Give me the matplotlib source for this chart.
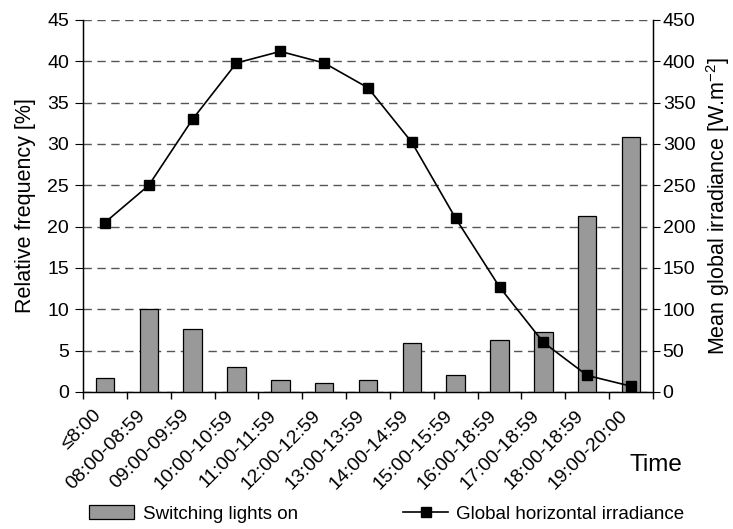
import matplotlib
matplotlib.use("Agg")
import matplotlib.pyplot as plt
import matplotlib.transforms as mtransforms
import numpy as np
from matplotlib.patches import Patch
from matplotlib.lines import Line2D

plt.rcParams['font.family'] = ['Liberation Sans', 'DejaVu Sans']
plt.rcParams['mathtext.fontset'] = 'custom'
plt.rcParams['mathtext.rm'] = 'Liberation Sans'
plt.rcParams['mathtext.it'] = 'Liberation Sans'

categories = ["≤8:00", "08:00-08:59", "09:00-09:59", "10:00-10:59", "11:00-11:59",
              "12:00-12:59", "13:00-13:59", "14:00-14:59", "15:00-15:59",
              "16:00-18:59", "17:00-18:59", "18:00-18:59", "19:00-20:00"]
switching = [1.7, 10.0, 7.6, 3.0, 1.5, 1.1, 1.5, 5.9, 2.1, 6.3, 7.2, 21.3, 30.8]
irradiance = [205, 250, 330, 398, 412, 398, 368, 302, 210, 127, 60, 20, 7]

fig = plt.figure(figsize=(7.33, 5.29), dpi=100)
ax = fig.add_axes([83/733, 1 - 392/529, (653-83)/733, (392-20)/529])
x = np.arange(len(categories))

ax.bar(x, switching, width=0.42, color='#999999', edgecolor='black', linewidth=0.9, zorder=3)
ax.set_xlim(-0.5, len(categories) - 0.5)
ax.set_ylim(0, 45)
ax.set_yticks(np.arange(0, 46, 5))
ax.yaxis.grid(True, linestyle=(0, (6, 4)), color='#555555', linewidth=1.0, zorder=0)
ax.set_axisbelow(True)
ax.set_xticks(x)
ax.set_xticklabels(categories, rotation=45, ha='right', va='center',
                   rotation_mode='anchor', fontsize=14)
ax.tick_params(axis='x', which='major', length=0, pad=15)
offset = mtransforms.ScaledTranslation(-6/100, 0, fig.dpi_scale_trans)
for lbl in ax.get_xticklabels():
    lbl.set_transform(lbl.get_transform() + offset)
ax.set_xticks(np.arange(-0.5, len(categories), 1), minor=True)
ax.tick_params(axis='x', which='minor', length=5, direction='out', width=1)
ax.tick_params(axis='y', labelsize=14, length=6, direction='out', pad=4)
ax.set_ylabel("Relative frequency [%]", fontsize=15.5, labelpad=8)
ax.spines['top'].set_visible(False)
for s in ['left', 'bottom', 'right']:
    ax.spines[s].set_linewidth(1.0)

ax2 = ax.twinx()
ax2.plot(x, irradiance, color='black', linewidth=1.2, marker='s', markersize=7.5, zorder=4)
ax2.set_ylim(0, 450)
ax2.set_yticks(np.arange(0, 451, 50))
ax2.tick_params(axis='y', labelsize=14, length=5, direction='out', pad=2)
ax2.set_ylabel("Mean global irradiance [W.m$^{-2}$]", fontsize=15.5, labelpad=6)
ax2.spines['top'].set_visible(False)

fig.text(630/733, 1 - 465/529, "Time", fontsize=17.5, ha='left', va='center')

handles = [Patch(facecolor='#999999', edgecolor='black', linewidth=0.9),
           Line2D([0], [0], color='black', marker='s', markersize=7.5, linewidth=1.2)]
fig.legend(handles, ["Switching lights on", "Global horizontal irradiance"],
           loc='center', bbox_to_anchor=(387/733, 1 - 514/529), ncol=2, frameon=False,
           fontsize=13.5, columnspacing=5.6, handlelength=2.4, handletextpad=0.45)

fig.savefig("out.png", dpi=100)
